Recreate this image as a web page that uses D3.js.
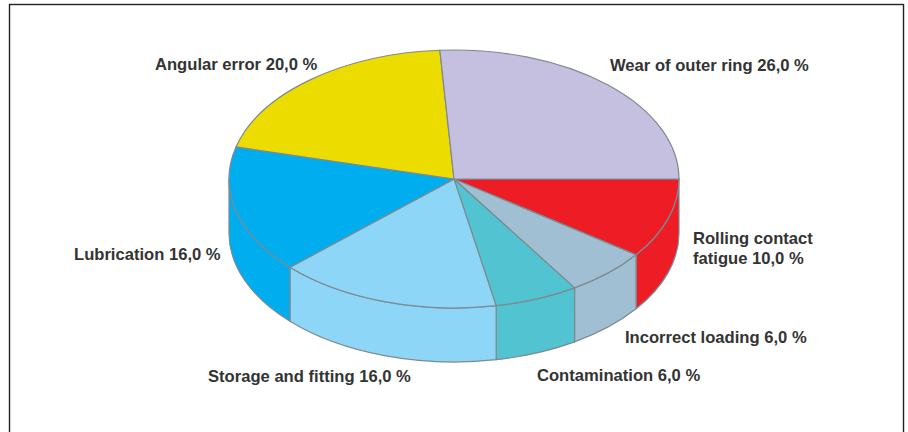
<!DOCTYPE html>
<html>
<head>
<meta charset="utf-8">
<script src="https://cdn.jsdelivr.net/npm/d3@7"></script>
<style>
  html, body { margin: 0; padding: 0; background: #fff; }
  svg { display: block; }
  text { font-family: "Liberation Sans", Arial, sans-serif; font-size: 16.6px; font-weight: bold; fill: #333; }
</style>
</head>
<body>
<div id="chart"></div>
<script>
// causes of bearing failure, share in percent, clockwise from 3 o'clock
const causes = ["Rolling contact", "Incorrect loading", "Contamination", "Storage and fitting", "Lubrication", "Angular error", "Wear of outer ring"];
const shares = [10, 6, 6, 16, 16, 20, 26];
const sliceColors = ["#ee1c25", "#a0bfd2", "#52c3d0", "#8dd6f7", "#00aeef", "#ecdc00", "#c5c0e0"];
const labelLines = [
  ["Rolling contact", "fatigue 10,0 %"],
  ["Incorrect loading 6,0 %"],
  ["Contamination 6,0 %"],
  ["Storage and fitting 16,0 %"],
  ["Lubrication 16,0 %"],
  ["Angular error 20,0 %"],
  ["Wear of outer ring 26,0 %"]
];
const labelSpots = [[693, 244], [625, 343], [537, 381], [208, 382], [74, 260], [155, 70], [610, 71]];

const width = 908;
const height = 432;
const cx = 454;
const cy = 179;
const rx = 225;
const ry = 129;
const depth = 54;

const svg = d3.select("#chart").append("svg")
  .attr("width", width)
  .attr("height", height);

// frame, runs off the bottom edge
svg.append("rect")
  .attr("x", 9.5)
  .attr("y", 4.5)
  .attr("width", 894)
  .attr("height", 440)
  .attr("fill", "none")
  .attr("stroke", "#222")
  .attr("stroke-width", 1.4);

const pie = d3.pie()
  .sort(null)
  .startAngle(Math.PI / 2)
  .endAngle(Math.PI / 2 + 2 * Math.PI);

const slices = pie(shares).map((d, i) => ({ ...d, color: sliceColors[i], name: causes[i] }));

// everything is drawn on a circle and squashed into an ellipse
const yScale = ry / rx;
const disc = svg.append("g")
  .attr("transform", `translate(${cx},${cy}) scale(1,${yScale})`);

const arc = d3.arc().innerRadius(0).outerRadius(rx);

// d3 angles start at 12 o'clock, canvas angles at 3 o'clock
function sidePath(a0, a1) {
  const p = d3.path();
  const drop = depth / yScale;
  const s0 = a0 - Math.PI / 2;
  const s1 = a1 - Math.PI / 2;
  p.moveTo(rx * Math.cos(s0), rx * Math.sin(s0));
  p.arc(0, 0, rx, s0, s1);
  p.lineTo(rx * Math.cos(s1), rx * Math.sin(s1) + drop);
  p.arc(0, drop, rx, s1, s0, true);
  p.closePath();
  return p.toString();
}

// only the front half of the rim can be seen
const rimStart = Math.PI / 2;
const rimEnd = 3 * Math.PI / 2;
const rim = slices.filter(d => d.startAngle < rimEnd);

disc.selectAll(".side")
  .data(rim)
  .join("path")
  .attr("class", "side")
  .attr("d", d => sidePath(Math.max(d.startAngle, rimStart), Math.min(d.endAngle, rimEnd)))
  .attr("fill", d => d.color)
  .attr("stroke", "#7d8a90")
  .attr("stroke-width", 1.2)
  .attr("vector-effect", "non-scaling-stroke");

disc.selectAll(".top")
  .data(slices)
  .join("path")
  .attr("class", "top")
  .attr("d", arc)
  .attr("fill", d => d.color)
  .attr("stroke", "#7d8a90")
  .attr("stroke-width", 1.2)
  .attr("vector-effect", "non-scaling-stroke");

// labels
const labels = svg.selectAll(".label")
  .data(labelLines)
  .join("text")
  .attr("class", "label")
  .attr("transform", (d, i) => `translate(${labelSpots[i][0]},${labelSpots[i][1]})`);

labels.selectAll("tspan")
  .data(d => d)
  .join("tspan")
  .attr("x", 0)
  .attr("dy", (d, i) => i ? 20 : 0)
  .text(d => d);
</script>
</body>
</html>
